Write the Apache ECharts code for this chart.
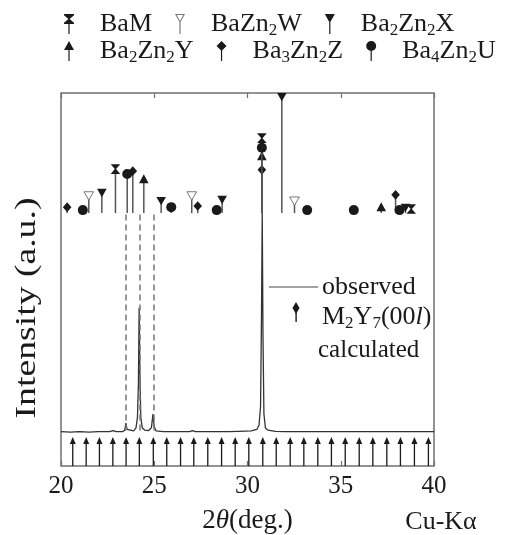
<!DOCTYPE html>
<html>
<head>
<meta charset="utf-8">
<script src="https://cdn.jsdelivr.net/npm/echarts@6/dist/echarts.min.js"></script>
<style>
  html, body { margin: 0; padding: 0; background: #fff; }
  #chart { width: 506px; height: 535px; }
</style>
</head>
<body>
<div id="chart"></div>
<script>
const FONT = 'Liberation Serif';
const INK = '#1a1a1a';

// 2theta axis
const angleMin = 20;
const angleMax = 40;
const angleStep = 5;

// observed pattern (a.u.)
const obsAngle = [20.0, 20.5, 21.0, 21.5, 22.0, 22.6, 22.8, 22.95, 23.3, 23.42, 23.48, 23.54, 23.62, 23.9, 24.02, 24.1, 24.15, 24.19, 24.23, 24.28, 24.36, 24.5, 24.7, 24.85, 24.93, 25.0, 25.1, 25.5, 26.0, 26.9, 27.05, 27.2, 28.0, 29.0, 29.5, 30.2, 30.5, 30.62, 30.7, 30.75, 30.79, 30.83, 30.88, 30.96, 31.1, 31.5, 32.0, 33.0, 34.0, 35.0, 36.0, 37.0, 37.38, 37.45, 37.55, 38.0, 39.0, 40.0];
const obsIntensity = [9.2, 9.1, 9.2, 9.1, 9.2, 9.2, 9.5, 9.2, 9.2, 9.6, 11.5, 9.8, 9.3, 9.4, 10.2, 13.0, 22.0, 42.4, 25.0, 13.0, 10.2, 9.6, 9.5, 10.3, 13.9, 10.5, 9.4, 9.2, 9.2, 9.2, 9.5, 9.2, 9.2, 9.2, 9.3, 9.4, 9.8, 11.0, 16.0, 40.0, 68.0, 35.0, 14.0, 10.2, 9.6, 9.3, 9.2, 9.2, 9.2, 9.2, 9.2, 9.2, 9.2, 9.7, 9.2, 9.2, 9.2, 9.2];

// M2Y7 (00l) calculated positions
const m2y7Pos = [20.63, 21.35, 22.06, 22.78, 23.49, 24.20, 24.95, 25.67, 26.41, 27.12, 27.87, 28.61, 29.34, 30.07, 30.82, 31.54, 32.29, 33.02, 33.77, 34.50, 35.24, 35.99, 36.72, 37.47, 38.20, 38.95, 39.70];
const arrowTop = 7.8;

// dashed guides
const guidePos = [23.49, 24.20, 24.95];
const guideTop = 67.4;
const guideBottom = 9.2;

// phase reflections: position and marker height
const stickBase = 67.8;
const bamPos = [22.92, 30.77, 38.78];
const bamTop = [79.6, 87.9, 68.9];
const wPos = [21.49, 27.01, 32.52];
const wTop = [72.4, 72.4, 71.0];
const xPos = [22.19, 25.37, 28.64, 31.84, 38.47];
const xTop = [73.2, 71.0, 71.3, 98.9, 69.2];
const yPos = [24.44, 30.77, 37.17];
const yTop = [76.9, 83.1, 69.4];
const zPos = [20.33, 23.85, 27.33, 30.77, 37.94];
const zTop = [69.4, 79.1, 69.7, 79.4, 72.7];
const uPos = [21.17, 23.55, 25.91, 28.35, 30.77, 33.20, 35.70, 38.15];
const uTop = [68.6, 78.3, 69.4, 68.6, 85.3, 68.6, 68.6, 68.6];

const shapes = {
  hourglass: [[-4.8, -4.8], [4.8, -4.8], [0.6, 0], [4.8, 4.8], [-4.8, 4.8], [-0.6, 0]],
  triDown: [[-4.8, -4.2], [4.8, -4.2], [0, 4.2]],
  triUp: [[0, -4.8], [4.8, 4.2], [-4.8, 4.2]],
  diamond: [[0, -4.8], [4.3, 0], [0, 4.8], [-4.3, 0]]
};

const stem = ' M4.4,8.5 L5.6,8.5 L5.6,20 L4.4,20 Z';
const icons = {
  BaM: 'path://M0,0 L10,0 L10,1.2 L5.6,5 L10,8.8 L10,10 L0,10 L0,8.8 L4.4,5 L0,1.2 Z' + stem,
  BaZn2W: 'path://M0,0 L10,0 L5,9 Z M1.8,1 L5,7 L8.2,1 Z' + stem,
  Ba2Zn2X: 'path://M0,0 L10,0 L5,9 Z' + stem,
  Ba2Zn2Y: 'path://M5,0 L10,9 L0,9 Z' + stem,
  Ba3Zn2Z: 'path://M5,0 L10,5 L5,10 L0,5 Z' + stem,
  Ba4Zn2U: 'path://M0,5 A5,5 0 1 1 10,5 A5,5 0 1 1 0,5 Z' + stem
};

function phaseSeries(name, pos, top, shape, open) {
  const color = open ? '#777' : INK;
  return {
    name: name,
    type: 'custom',
    z: 4,
    itemStyle: { color: color },
    data: pos.map((p, i) => [p, top[i]]),
    renderItem: function (params, api) {
      const c = api.coord([api.value(0), api.value(1)]);
      const b = api.coord([api.value(0), stickBase]);
      const children = [];
      if (b[1] - c[1] > 3) {
        children.push({
          type: 'line',
          shape: { x1: c[0], y1: c[1], x2: b[0], y2: b[1] },
          style: { stroke: '#555', lineWidth: 1.5 }
        });
      }
      if (shape === 'circle') {
        children.push({
          type: 'circle',
          shape: { cx: c[0], cy: c[1], r: 5 },
          style: { fill: INK }
        });
      } else {
        children.push({
          type: 'polygon',
          shape: { points: shapes[shape].map(d => [c[0] + d[0], c[1] + d[1]]) },
          style: open ? { fill: '#fff', stroke: '#777', lineWidth: 1 } : { fill: INK }
        });
      }
      return { type: 'group', children: children };
    }
  };
}

const subRich = {
  s: { fontFamily: FONT, fontSize: 17, color: INK, verticalAlign: 'bottom', lineHeight: 14 }
};

function legendRow(names, top) {
  return {
    left: 59,
    top: top,
    orient: 'horizontal',
    selectedMode: false,
    itemWidth: 10,
    itemHeight: 20,
    itemGap: 23,
    data: names.map(n => ({ name: n, icon: icons[n] })),
    formatter: name => name.replace(/(\d)/g, '{s|$1}'),
    textStyle: { fontFamily: FONT, fontSize: 26, color: INK, lineHeight: 30, padding: [0, 0, 0, 21], rich: subRich }
  };
}

let myChart = echarts.init(document.getElementById('chart'));
let option = {
  animation: false,
  backgroundColor: '#fff',
  legend: [
    legendRow(['BaM', 'BaZn2W', 'Ba2Zn2X'], 4),
    legendRow(['Ba2Zn2Y', 'Ba3Zn2Z', 'Ba4Zn2U'], 31)
  ],
  grid: {
    left: 61, right: 72, top: 93, bottom: 69,
    outerBoundsMode: 'none',
    containLabel: false,
    show: true, borderColor: '#707070', borderWidth: 1.5
  },
  xAxis: [
    {
      type: 'value',
      min: angleMin, max: angleMax, interval: angleStep,
      name: '2{i|θ}(deg.)',
      nameLocation: 'middle',
      nameGap: 41,
      nameTextStyle: {
        fontFamily: FONT, fontSize: 27, color: INK,
        rich: { i: { fontFamily: FONT, fontSize: 27, fontStyle: 'italic', color: INK } }
      },
      axisLine: { show: false },
      axisTick: { inside: true, length: 5, lineStyle: { color: '#707070', width: 1.2 } },
      axisLabel: { fontFamily: FONT, fontSize: 25, color: INK, margin: 8 },
      splitLine: { show: false }
    },
    {
      type: 'value',
      position: 'top',
      min: angleMin, max: angleMax, interval: angleStep,
      axisLine: { show: false },
      axisTick: { inside: true, length: 5, lineStyle: { color: '#707070', width: 1.2 } },
      axisLabel: { show: false },
      splitLine: { show: false }
    }
  ],
  yAxis: {
    type: 'value', min: 0, max: 100,
    axisLine: { show: false }, axisTick: { show: false },
    axisLabel: { show: false }, splitLine: { show: false }
  },
  graphic: [
    {
      type: 'text', x: 27, y: 308, rotation: Math.PI / 2, scaleX: 1.3,
      style: { text: 'Intensity (a.u.)', fontFamily: FONT, fontSize: 29, fill: INK, align: 'center', verticalAlign: 'middle', textAlign: 'center', textVerticalAlign: 'middle' }
    },
    {
      type: 'text', x: 441, y: 522,
      style: { text: 'Cu-Kα', fontFamily: FONT, fontSize: 26, fill: INK, align: 'center', verticalAlign: 'middle', textAlign: 'center', textVerticalAlign: 'middle' }
    },
    {
      type: 'line', shape: { x1: 269, y1: 287, x2: 318, y2: 287 },
      style: { stroke: '#444', lineWidth: 1.2 }
    },
    {
      type: 'polygon', shape: { points: [[296, 302], [299.5, 308], [296, 314], [292.5, 308]] },
      style: { fill: INK }
    },
    {
      type: 'rect', shape: { x: 295.4, y: 310, width: 1.4, height: 12 },
      style: { fill: INK }
    },
    {
      type: 'text', x: 322, y: 287,
      style: { text: 'observed', fontFamily: FONT, fontSize: 26, fill: INK, align: 'left', verticalAlign: 'middle', textAlign: 'left', textVerticalAlign: 'middle' }
    },
    {
      type: 'text', x: 322, y: 317,
      style: {
        text: 'M{s|2}Y{s|7}(00{i|l})', fontFamily: FONT, fontSize: 26, fill: INK, lineHeight: 30,
        align: 'left', verticalAlign: 'middle', textAlign: 'left', textVerticalAlign: 'middle',
        rich: {
          s: { fontFamily: FONT, fontSize: 17, fill: INK, color: INK, verticalAlign: 'bottom', lineHeight: 14 },
          i: { fontFamily: FONT, fontSize: 26, fill: INK, color: INK, fontStyle: 'italic', lineHeight: 30 }
        }
      }
    },
    {
      type: 'text', x: 318, y: 350,
      style: { text: 'calculated', fontFamily: FONT, fontSize: 25, fill: INK, align: 'left', verticalAlign: 'middle', textAlign: 'left', textVerticalAlign: 'middle' }
    }
  ],
  series: [
    {
      name: 'observed',
      type: 'line',
      showSymbol: false,
      z: 3,
      data: obsAngle.map((a, i) => [a, obsIntensity[i]]),
      lineStyle: { color: '#333', width: 1.3 },
      markLine: {
        silent: true,
        symbol: ['none', 'none'],
        label: { show: false },
        lineStyle: { type: [6, 4], color: '#777', width: 1.5 },
        data: guidePos.map(p => [{ coord: [p, guideTop] }, { coord: [p, guideBottom] }])
      }
    },
    {
      name: 'M2Y7',
      type: 'custom',
      z: 4,
      data: m2y7Pos.map(p => [p, arrowTop]),
      renderItem: function (params, api) {
        const tip = api.coord([api.value(0), api.value(1)]);
        const bottom = api.coord([api.value(0), 0]);
        return {
          type: 'group',
          children: [
            { type: 'line', shape: { x1: tip[0], y1: tip[1] + 4, x2: bottom[0], y2: bottom[1] }, style: { stroke: INK, lineWidth: 1.3 } },
            { type: 'polygon', shape: { points: [[tip[0], tip[1]], [tip[0] + 3, tip[1] + 7], [tip[0] - 3, tip[1] + 7]] }, style: { fill: INK } }
          ]
        };
      }
    },
    phaseSeries('BaM', bamPos, bamTop, 'hourglass', false),
    phaseSeries('BaZn2W', wPos, wTop, 'triDown', true),
    phaseSeries('Ba2Zn2X', xPos, xTop, 'triDown', false),
    phaseSeries('Ba2Zn2Y', yPos, yTop, 'triUp', false),
    phaseSeries('Ba3Zn2Z', zPos, zTop, 'diamond', false),
    phaseSeries('Ba4Zn2U', uPos, uTop, 'circle', false)
  ]
};
myChart.setOption(option);
</script>
</body>
</html>
